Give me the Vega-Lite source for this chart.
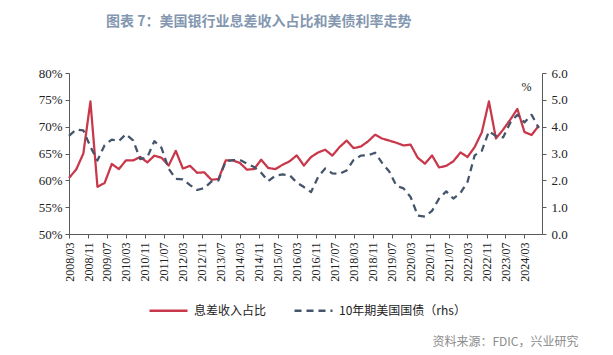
{
  "$schema": "https://vega.github.io/schema/vega-lite/v6.json",
  "width": 473,
  "height": 161,
  "autosize": "none",
  "padding": {"left": 69, "top": 73, "right": 71, "bottom": 121},
  "background": "white",
  "config": {
    "view": {"stroke": null},
    "axis": {"grid": false, "domainColor": "#595959", "tickColor": "#595959", "tickSize": 4, "labelFont": "Liberation Serif", "labelColor": "#222222"},
    "legend": {
      "orient": "none", "legendX": 79, "legendY": 217, "direction": "horizontal",
      "symbolType": "stroke", "symbolSize": 1444, "symbolStrokeWidth": 2.5,
      "labelFont": "Noto Sans CJK SC", "labelFontSize": 12, "labelColor": "#222222",
      "columnPadding": 22, "labelOffset": 5
    }
  },
  "title": {
    "text": "图表 7：美国银行业息差收入占比和美债利率走势",
    "anchor": "start", "frame": "group", "dx": 37, "offset": 38,
    "font": "Noto Sans CJK SC", "fontSize": 14, "fontWeight": "bold", "color": "#8497B0"
  },
  "data": {"values": [
    {"d": "2008-03-01", "nim": 60.45, "ust": 3.66},
    {"d": "2008-06-01", "nim": 62.0, "ust": 3.89},
    {"d": "2008-09-01", "nim": 65.0, "ust": 3.86},
    {"d": "2008-12-01", "nim": 74.7, "ust": 3.25},
    {"d": "2009-03-01", "nim": 58.8, "ust": 2.74},
    {"d": "2009-06-01", "nim": 59.5, "ust": 3.31},
    {"d": "2009-09-01", "nim": 63.05, "ust": 3.52},
    {"d": "2009-12-01", "nim": 62.1, "ust": 3.46},
    {"d": "2010-03-01", "nim": 63.7, "ust": 3.72},
    {"d": "2010-06-01", "nim": 63.7, "ust": 3.49},
    {"d": "2010-09-01", "nim": 64.35, "ust": 2.79},
    {"d": "2010-12-01", "nim": 63.35, "ust": 2.86},
    {"d": "2011-03-01", "nim": 64.6, "ust": 3.46},
    {"d": "2011-06-01", "nim": 64.2, "ust": 3.21},
    {"d": "2011-09-01", "nim": 62.75, "ust": 2.43},
    {"d": "2011-12-01", "nim": 65.5, "ust": 2.05},
    {"d": "2012-03-01", "nim": 62.2, "ust": 2.04},
    {"d": "2012-06-01", "nim": 62.7, "ust": 1.82},
    {"d": "2012-09-01", "nim": 61.4, "ust": 1.64},
    {"d": "2012-12-01", "nim": 61.5, "ust": 1.71},
    {"d": "2013-03-01", "nim": 60.1, "ust": 1.95},
    {"d": "2013-06-01", "nim": 60.25, "ust": 2.0},
    {"d": "2013-09-01", "nim": 63.7, "ust": 2.71},
    {"d": "2013-12-01", "nim": 63.7, "ust": 2.75},
    {"d": "2014-03-01", "nim": 63.25, "ust": 2.76},
    {"d": "2014-06-01", "nim": 62.0, "ust": 2.62},
    {"d": "2014-09-01", "nim": 62.1, "ust": 2.5},
    {"d": "2014-12-01", "nim": 63.85, "ust": 2.28},
    {"d": "2015-03-01", "nim": 62.3, "ust": 1.97},
    {"d": "2015-06-01", "nim": 62.1, "ust": 2.17},
    {"d": "2015-09-01", "nim": 62.9, "ust": 2.22},
    {"d": "2015-12-01", "nim": 63.55, "ust": 2.19},
    {"d": "2016-03-01", "nim": 64.65, "ust": 1.92},
    {"d": "2016-06-01", "nim": 62.75, "ust": 1.75},
    {"d": "2016-09-01", "nim": 64.35, "ust": 1.56},
    {"d": "2016-12-01", "nim": 65.2, "ust": 2.13},
    {"d": "2017-03-01", "nim": 65.7, "ust": 2.44},
    {"d": "2017-06-01", "nim": 64.6, "ust": 2.26},
    {"d": "2017-09-01", "nim": 66.2, "ust": 2.24},
    {"d": "2017-12-01", "nim": 67.4, "ust": 2.37},
    {"d": "2018-03-01", "nim": 66.0, "ust": 2.76},
    {"d": "2018-06-01", "nim": 66.3, "ust": 2.92},
    {"d": "2018-09-01", "nim": 67.25, "ust": 2.93},
    {"d": "2018-12-01", "nim": 68.5, "ust": 3.03},
    {"d": "2019-03-01", "nim": 67.8, "ust": 2.65},
    {"d": "2019-06-01", "nim": 67.4, "ust": 2.33},
    {"d": "2019-09-01", "nim": 67.0, "ust": 1.8},
    {"d": "2019-12-01", "nim": 66.5, "ust": 1.7},
    {"d": "2020-03-01", "nim": 66.65, "ust": 1.38},
    {"d": "2020-06-01", "nim": 64.2, "ust": 0.69},
    {"d": "2020-09-01", "nim": 63.1, "ust": 0.65},
    {"d": "2020-12-01", "nim": 64.65, "ust": 0.86},
    {"d": "2021-03-01", "nim": 62.4, "ust": 1.32},
    {"d": "2021-06-01", "nim": 62.7, "ust": 1.59},
    {"d": "2021-09-01", "nim": 63.55, "ust": 1.32},
    {"d": "2021-12-01", "nim": 65.2, "ust": 1.53},
    {"d": "2022-03-01", "nim": 64.35, "ust": 1.94},
    {"d": "2022-06-01", "nim": 66.2, "ust": 2.93},
    {"d": "2022-09-01", "nim": 68.95, "ust": 3.1},
    {"d": "2022-12-01", "nim": 74.7, "ust": 3.83},
    {"d": "2023-03-01", "nim": 67.8, "ust": 3.65},
    {"d": "2023-06-01", "nim": 69.45, "ust": 3.6},
    {"d": "2023-09-01", "nim": 71.3, "ust": 4.15},
    {"d": "2023-12-01", "nim": 73.3, "ust": 4.44},
    {"d": "2024-03-01", "nim": 69.0, "ust": 4.16},
    {"d": "2024-06-01", "nim": 68.45, "ust": 4.44},
    {"d": "2024-09-01", "nim": 70.2, "ust": 3.95}
  ]},
  "transform": [{"fold": ["nim", "ust"], "as": ["series", "value"]}],
  "encoding": {
    "x": {
      "field": "d", "type": "temporal",
      "scale": {"type": "utc", "domain": [{"year": 2008, "month": 3, "date": 1, "utc": true}, {"year": 2024, "month": 10, "date": 12, "utc": true}]},
      "axis": {
        "values": [
          {"year": 2008, "month": 3, "date": 1, "utc": true},
          {"year": 2008, "month": 11, "date": 1, "utc": true},
          {"year": 2009, "month": 7, "date": 1, "utc": true},
          {"year": 2010, "month": 3, "date": 1, "utc": true},
          {"year": 2010, "month": 11, "date": 1, "utc": true},
          {"year": 2011, "month": 7, "date": 1, "utc": true},
          {"year": 2012, "month": 3, "date": 1, "utc": true},
          {"year": 2012, "month": 11, "date": 1, "utc": true},
          {"year": 2013, "month": 7, "date": 1, "utc": true},
          {"year": 2014, "month": 3, "date": 1, "utc": true},
          {"year": 2014, "month": 11, "date": 1, "utc": true},
          {"year": 2015, "month": 7, "date": 1, "utc": true},
          {"year": 2016, "month": 3, "date": 1, "utc": true},
          {"year": 2016, "month": 11, "date": 1, "utc": true},
          {"year": 2017, "month": 7, "date": 1, "utc": true},
          {"year": 2018, "month": 3, "date": 1, "utc": true},
          {"year": 2018, "month": 11, "date": 1, "utc": true},
          {"year": 2019, "month": 7, "date": 1, "utc": true},
          {"year": 2020, "month": 3, "date": 1, "utc": true},
          {"year": 2020, "month": 11, "date": 1, "utc": true},
          {"year": 2021, "month": 7, "date": 1, "utc": true},
          {"year": 2022, "month": 3, "date": 1, "utc": true},
          {"year": 2022, "month": 11, "date": 1, "utc": true},
          {"year": 2023, "month": 7, "date": 1, "utc": true},
          {"year": 2024, "month": 3, "date": 1, "utc": true}
        ],
        "labelExpr": "utcFormat(datum.value, '%Y/%m')",
        "labelAngle": 270, "labelFontSize": 12, "labelPadding": 4,
        "labelOverlap": false, "labelFlush": false,
        "title": "资料来源：FDIC，兴业研究",
        "titleX": 509, "titleY": 107, "titleAlign": "right", "titleBaseline": "middle", "titleAngle": 0,
        "titleFont": "Noto Sans CJK SC", "titleFontSize": 12, "titleFontWeight": "normal", "titleColor": "#8C8C8C"
      }
    },
    "color": {
      "field": "series", "type": "nominal",
      "scale": {"domain": ["nim", "ust"], "range": ["#C8374A", "#44546A"]},
      "legend": {"title": null, "labelExpr": "datum.label == 'nim' ? '息差收入占比' : '10年期美国国债（rhs）'"}
    },
    "strokeDash": {
      "field": "series", "type": "nominal",
      "scale": {"domain": ["nim", "ust"], "range": [[1, 0], [7, 5]]},
      "legend": {"title": null, "labelExpr": "datum.label == 'nim' ? '息差收入占比' : '10年期美国国债（rhs）'"}
    }
  },
  "layer": [
    {
      "transform": [{"filter": "datum.series == 'nim'"}],
      "mark": {"type": "line", "strokeWidth": 2.25, "strokeJoin": "round"},
      "encoding": {
        "y": {
          "field": "value", "type": "quantitative",
          "scale": {"domain": [50, 80], "nice": false, "zero": false},
          "axis": {"orient": "left", "values": [50, 55, 60, 65, 70, 75, 80], "labelExpr": "datum.value + '%'", "title": null, "labelFontSize": 13, "labelPadding": 3}
        }
      }
    },
    {
      "transform": [{"filter": "datum.series == 'ust'"}],
      "mark": {"type": "line", "strokeWidth": 2.25, "strokeJoin": "round"},
      "encoding": {
        "y": {
          "field": "value", "type": "quantitative",
          "scale": {"domain": [0, 6], "nice": false, "zero": true},
          "axis": {
            "orient": "right", "values": [0, 1, 2, 3, 4, 5, 6], "format": ".1f", "labelFontSize": 13, "labelPadding": 5,
            "title": "%", "titleAngle": 0, "titleX": -16, "titleY": 13, "titleAlign": "center", "titleBaseline": "middle",
            "titleFont": "Liberation Serif", "titleFontSize": 12, "titleFontWeight": "normal", "titleColor": "#222222"
          }
        }
      }
    }
  ],
  "resolve": {"scale": {"y": "independent"}, "axis": {"y": "independent"}}
}
